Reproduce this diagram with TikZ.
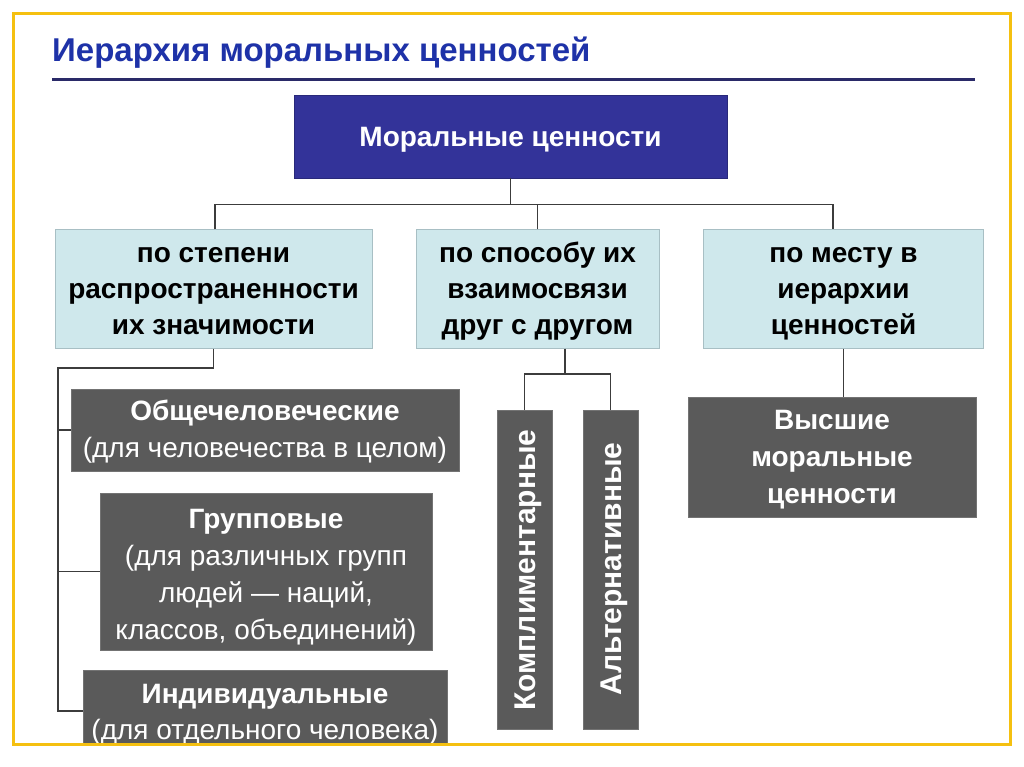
\documentclass[tikz,border=0pt]{standalone}
\usepackage{fontspec}
\setmainfont{Liberation Sans}
\usetikzlibrary{calc}
\definecolor{frameY}{HTML}{F5C010}
\definecolor{titleB}{HTML}{1E32A8}
\definecolor{ruleB}{HTML}{2A2A68}
\definecolor{topB}{HTML}{333399}
\definecolor{lightB}{HTML}{CFE8EC}
\definecolor{lightEdge}{HTML}{A8BFC4}
\definecolor{darkG}{HTML}{5A5A5A}
\definecolor{connC}{HTML}{3C3C3C}
\tikzset{
  topbox/.style={fill=topB, draw=topB!80!black, line width=0.8pt, text=white, font=\fontsize{28}{34}\selectfont\bfseries, inner sep=0pt},
  catbox/.style={fill=lightB, draw=lightEdge, line width=1pt, text=black, align=center, font=\fontsize{28}{36}\selectfont\bfseries, inner sep=0pt},
  graybox/.style={fill=darkG, draw=darkG!85!white, line width=0.8pt, text=white, align=center, font=\fontsize{28}{37}\selectfont, inner sep=0pt},
  vertbox/.style={fill=darkG, draw=darkG!85!white, line width=0.8pt, inner sep=0pt},
  vtext/.style={rotate=90, text=white, inner sep=0pt, font=\fontsize{30}{34}\selectfont\bfseries},
  conn/.style={draw=connC, line width=1.3pt},
}
\begin{document}
\begin{tikzpicture}[x=1pt,y=-1pt]
\useasboundingbox[fill=white] (0,0) rectangle (1024,767);
% title
\node[anchor=base west, inner sep=0pt, text=titleB, font=\fontsize{33}{38}\selectfont\bfseries] (title) at (52,62) {Иерархия моральных ценностей};
\coordinate (ruleL) at (52,80);
\coordinate (ruleR) at (975,80);
\draw[ruleB, line width=3pt] (ruleL) -- (ruleR);
% top box
\node[topbox, minimum width=433, minimum height=83] (top) at (510.5,136.5) {};
\node[anchor=base, inner sep=0pt, text=white, font=\fontsize{28}{34}\selectfont\bfseries] (topt) at (510.5,147) {Моральные ценности};
% category boxes (text anchored at last baseline)
\node[catbox, minimum width=317, minimum height=118] (lb) at (213.5,289) {};
\node[catbox, minimum width=243, minimum height=118] (mb) at (537.5,289) {};
\node[catbox, minimum width=280, minimum height=118] (rb) at (843.5,289) {};
\node[catbox, draw=none, fill=none, anchor=base] (lbt) at (213.5,334) {по степени\\распространенности\\их значимости};
\node[catbox, draw=none, fill=none, anchor=base] (mbt) at (537.5,334) {по способу их\\взаимосвязи\\друг с другом};
\node[catbox, draw=none, fill=none, anchor=base] (rbt) at (843.5,334) {по месту в\\иерархии\\ценностей};
% gray boxes
\node[graybox, minimum width=388, minimum height=82] (g1) at (265,430) {};
\node[graybox, fill=none, draw=none, anchor=base] (g1t) at (265,457) {\textbf{Общечеловеческие}\\(для человечества в целом)};
\node[graybox, minimum width=332, minimum height=157] (g2) at (266,571.5) {};
\node[graybox, fill=none, draw=none, anchor=base] (g2t) at (266,639) {\textbf{Групповые}\\(для различных групп\\людей — наций,\\классов, объединений)};
\node[graybox, minimum width=364, minimum height=74, anchor=north] (g3) at (265,670) {};
\node[anchor=base, inner sep=0pt, text=white, font=\fontsize{28}{37}\selectfont\bfseries] (g3a) at (265,703) {Индивидуальные};
\node[anchor=base, inner sep=0pt, text=white, font=\fontsize{28}{37}\selectfont] (g3b) at (265,739) {(для отдельного человека)};
\node[vertbox, minimum width=55, minimum height=319] (v1) at (524.5,569.5) {};
\node[vtext, anchor=base] (v1t) at (535,570) {Комплиментарные};
\node[vertbox, minimum width=55, minimum height=319] (v2) at (610.5,569.5) {};
\node[vtext, anchor=base] (v2t) at (621,569) {Альтернативные};
\node[graybox, minimum width=288, minimum height=120] (hi) at (832,457) {};
\node[graybox, fill=none, draw=none, anchor=base, font=\fontsize{28}{37}\selectfont\bfseries] (hit) at (832,503) {Высшие\\моральные\\ценности};
% connectors
\draw[conn] (top.south) -- ++(0,26) coordinate (j);
\draw[conn] ([xshift=1.5]lb.north) |- ([xshift=-10.5]rb.north |- j) -- ([xshift=-10.5]rb.north);
\draw[conn] (mb.north) -- (mb.north |- j);
\coordinate (spine) at (58,368);
\coordinate (s3) at (58,711);
\draw[conn] (lb.south) |- (spine) -- (s3) -- (s3 -| g3.west);
\draw[conn] (g1.west) -- (g1.west -| spine);
\draw[conn] (g2.west) -- (g2.west -| spine);
\coordinate (mj) at (565,374);
\draw[conn] (mb.south -| mj) -- (mj);
\draw[conn] (v1.north) |- (mj) -| (v2.north);
\draw[conn] (rb.south) -- (rb.south |- hi.north);
% frame
\draw[frameY, line width=3pt] (13.5,13.5) rectangle (1010.5,744.5);
\end{tikzpicture}
\end{document}
